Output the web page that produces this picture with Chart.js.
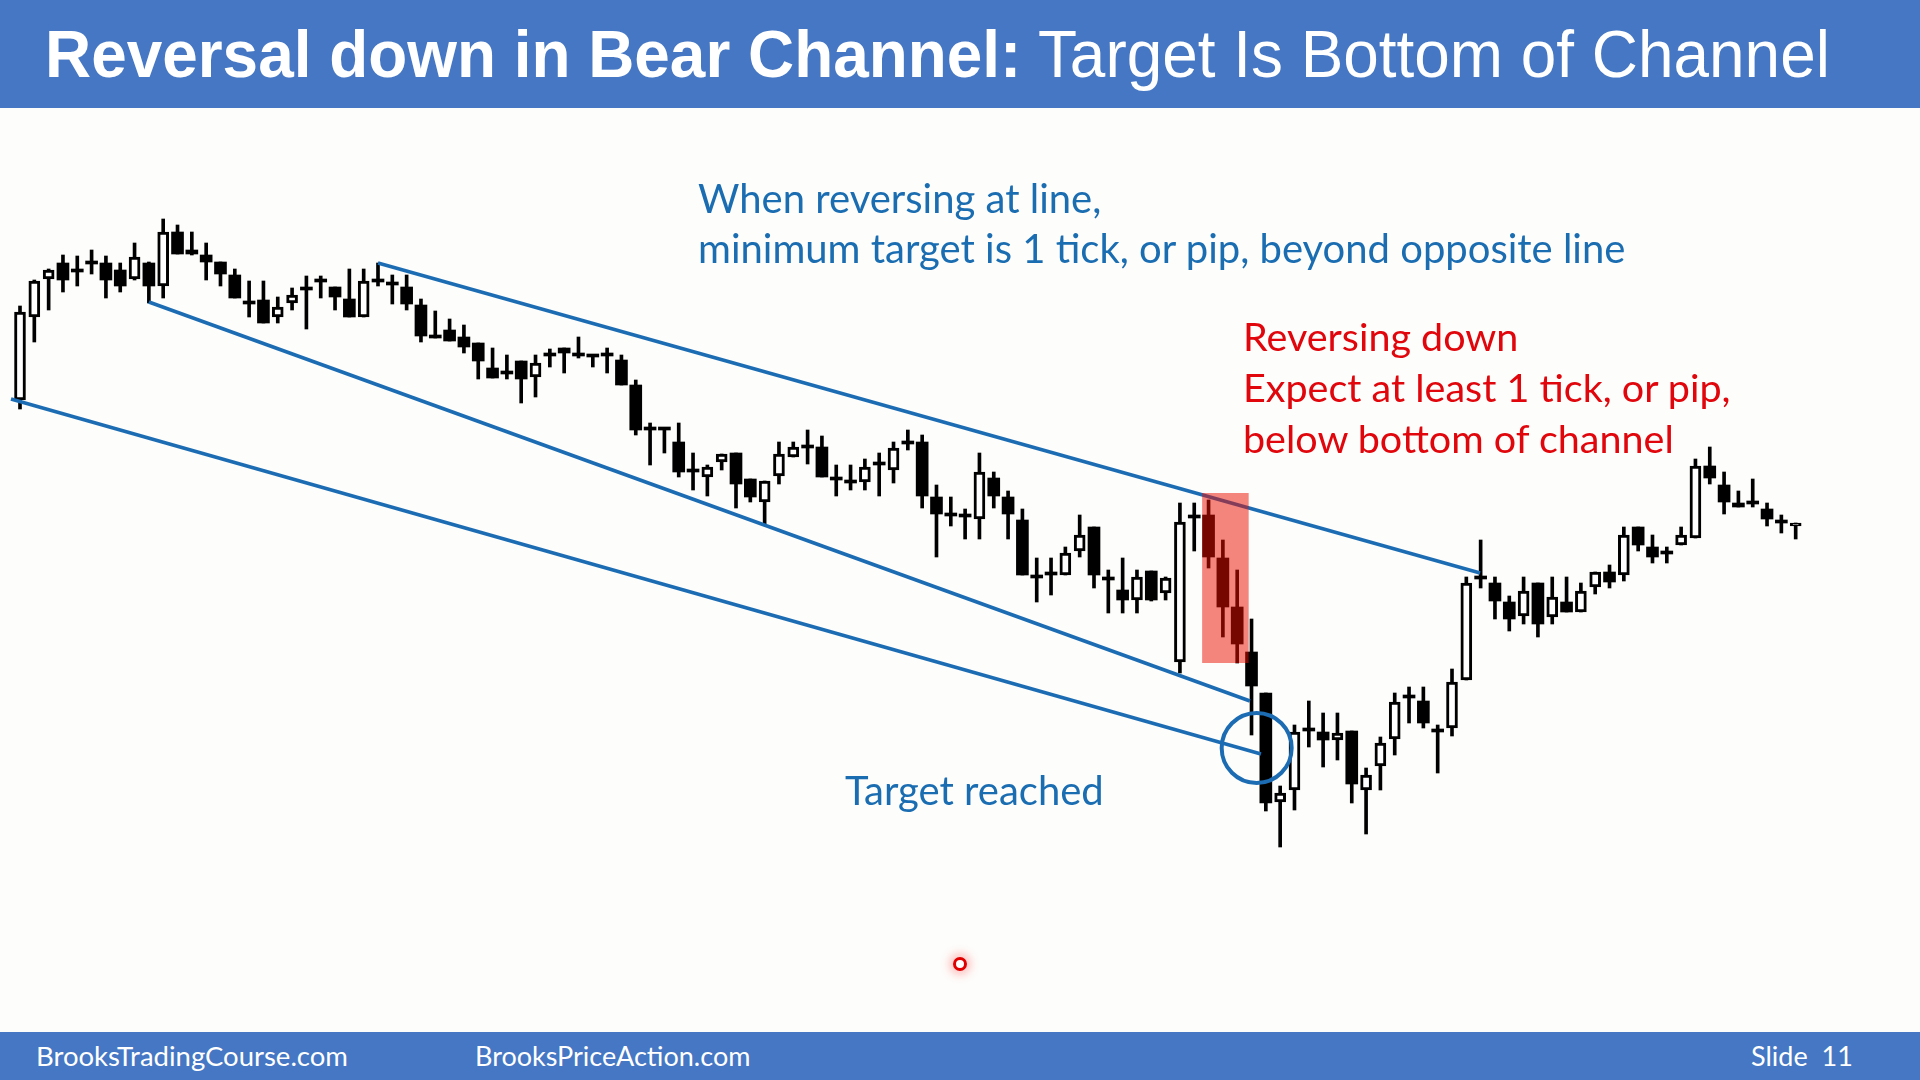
<!DOCTYPE html>
<html>
<head>
<meta charset="utf-8">
<title>Reversal down in Bear Channel</title>
<script src="https://cdn.jsdelivr.net/npm/chart.js@4.4.1/dist/chart.umd.min.js"></script>
<style>
  html, body { margin: 0; padding: 0; }
  body { width: 1920px; height: 1080px; position: relative; overflow: hidden; background: #fdfdfb; font-family: Lato, sans-serif; }
  #chart { position: absolute; left: 0; top: 0; }
  .band { position: absolute; left: 0; width: 1920px; background: #4577c4; color: #fff; }
  #title { top: 0; height: 108px; line-height: 108px; font-family: "Liberation Sans", Arial, sans-serif; font-size: 66px; white-space: nowrap; }
  #title span { position: absolute; left: 45px; top: 0; transform: scaleX(0.968); transform-origin: left center; }
  #footer { top: 1032px; height: 48px; line-height: 48px; font-size: 27px; }
  #footer span { position: absolute; top: 0; }
  .note { position: absolute; font-size: 40px; line-height: 50px; white-space: nowrap; }
  .blue { color: #1b6db2; }
  .red { color: #e0060c; }
  #dot { position: absolute; left: 953px; top: 957px; width: 8px; height: 8px; border: 3px solid #e00000; border-radius: 50%; background: #fff; box-shadow: 0 0 8px 4px rgba(255, 90, 90, 0.35); }
</style>
</head>
<body>
<canvas id="chart" width="1920" height="1080"></canvas>

<div id="title" class="band"><span><b>Reversal down in Bear Channel:</b> Target Is Bottom of Channel</span></div>

<div class="note blue" style="left:698px; top:173px;">When reversing at line,<br>minimum target is 1 tick, or pip, beyond opposite line</div>
<div class="note red" style="left:1243px; top:310px; line-height:51px; font-size:39.5px;">Reversing down<br>Expect at least 1 tick, or pip,<br>below bottom of channel</div>
<div class="note blue" style="left:845px; top:765px;">Target reached</div>
<div id="dot"></div>

<div id="footer" class="band">
  <span style="left:36px; font-size:27.5px;">BrooksTradingCourse.com</span>
  <span style="left:475px;">BrooksPriceAction.com</span>
  <span style="left:1751px;">Slide&nbsp;&nbsp;11</span>
</div>

<script>
// bar prices, one entry per bar, left to right
const open = [
  600, 683, 721, 737, 730, 738, 737, 730, 721, 737,
  714, 768, 750, 745, 738, 725, 699, 700, 683, 697,
  712, 720, 713, 701, 683, 719, 718, 713, 695, 663,
  670, 663, 657, 632, 628, 639, 623, 645, 652, 645,
  645, 646, 640, 615, 571, 571, 558, 529, 523, 538,
  547, 521, 498, 524, 543, 553, 553, 521, 520, 518,
  536, 530, 557, 558, 503, 485, 484, 481, 522, 503,
  480, 423, 428, 425, 449, 473, 421, 410, 400, 429,
  407, 338, 483, 485, 442, 393, 348, 307, 198, 210,
  270, 268, 260, 269, 210, 234, 261, 303, 299, 269,
  272, 320, 423, 417, 398, 384, 417, 383, 398, 388,
  413, 428, 425, 473, 453, 447, 455, 462, 534, 515,
  497, 497, 491, 478, 477
];
const close = [
  688, 719, 730, 720, 728, 736, 720, 714, 743, 714,
  768, 746, 746, 738, 726, 702, 696, 677, 693, 705,
  710, 718, 703, 683, 719, 718, 715, 696, 664, 662,
  659, 653, 639, 622, 626, 621, 637, 644, 647, 644,
  643, 644, 615, 570, 570, 570, 528, 528, 533, 546,
  516, 503, 519, 546, 553, 552, 523, 520, 517, 533,
  535, 552, 556, 504, 486, 484, 483, 528, 504, 486,
  425, 422, 425, 447, 465, 425, 420, 400, 423, 400,
  422, 478, 482, 443, 393, 356, 314, 197, 207, 268,
  269, 260, 267, 216, 225, 257, 298, 302, 277, 268,
  318, 417, 421, 399, 381, 409, 376, 403, 388, 409,
  428, 418, 465, 455, 443, 446, 465, 534, 522, 498,
  493, 496, 481, 477, 477
];
const high = [
  694, 720, 731, 745, 744, 750, 744, 737, 757, 738,
  781, 775, 768, 757, 738, 731, 719, 719, 703, 712,
  724, 724, 713, 731, 731, 737, 725, 725, 701, 689,
  681, 675, 657, 652, 645, 639, 645, 651, 652, 663,
  645, 652, 645, 620, 577, 571, 577, 547, 535, 546,
  547, 521, 519, 558, 558, 570, 564, 535, 535, 541,
  547, 558, 570, 565, 515, 503, 491, 547, 528, 509,
  491, 442, 442, 453, 485, 473, 430, 442, 430, 429,
  423, 497, 497, 500, 460, 430, 381, 307, 214, 275,
  299, 287, 287, 269, 232, 263, 307, 313, 313, 275,
  331, 423, 460, 423, 404, 423, 417, 423, 423, 417,
  428, 435, 473, 473, 465, 453, 473, 541, 553, 528,
  509, 521, 497, 485, 477
];
const low = [
  591, 658, 690, 708, 714, 726, 702, 708, 720, 697,
  702, 746, 745, 720, 714, 702, 683, 677, 677, 690,
  671, 702, 690, 683, 683, 714, 696, 690, 658, 662,
  659, 647, 621, 622, 621, 597, 603, 633, 627, 642,
  633, 627, 615, 565, 535, 547, 523, 510, 504, 530,
  492, 498, 476, 516, 543, 536, 523, 504, 510, 510,
  504, 517, 550, 492, 443, 474, 461, 461, 492, 461,
  425, 398, 405, 425, 443, 412, 387, 387, 387, 399,
  400, 327, 449, 432, 363, 337, 265, 189, 153, 190,
  253, 233, 240, 197, 166, 210, 245, 277, 272, 227,
  264, 320, 412, 381, 369, 376, 363, 376, 388, 388,
  406, 412, 419, 449, 437, 437, 455, 462, 516, 486,
  493, 493, 474, 467, 461
];

// channel lines: [bar, price] at each end
const upperLine = [[25, 737], [101.96, 427]];
const middleLine = [[9, 698], [85.89, 299]];
const lowerLine = [[-0.63, 601], [86.66, 246]];

// shaded reversal bars and the circled target
const highlight = { from: 82.55, to: 85.8, top: 507, bottom: 337 };
const target = { bar: 86.36, price: 252 };

const channelBlue = '#1c6cb3';
const bars = open.map((o, i) => i);

const bull = bars.filter(i => close[i] >= open[i]).map(i => ({ x: i, y: [open[i], close[i]] }));
const bear = bars.filter(i => close[i] < open[i]).map(i => ({ x: i, y: [close[i], open[i]] }));
const wicks = bars.map(i => ({ x: i, y: [low[i], high[i]] }));
const toPoints = line => line.map(p => ({ x: p[0], y: p[1] }));

const lineSet = line => ({
  type: 'line',
  data: toPoints(line),
  borderColor: channelBlue,
  borderWidth: 3.6,
  pointRadius: 0,
  order: -1
});

const overlays = {
  id: 'overlays',
  afterDatasetsDraw(chart) {
    const { ctx, scales: { x, y } } = chart;
    ctx.save();
    const x1 = x.getPixelForValue(highlight.from);
    const x2 = x.getPixelForValue(highlight.to);
    const y1 = y.getPixelForValue(highlight.top);
    const y2 = y.getPixelForValue(highlight.bottom);
    ctx.fillStyle = 'rgba(236, 14, 0, 0.5)';
    ctx.fillRect(x1, y1, x2 - x1, y2 - y1);

    ctx.strokeStyle = channelBlue;
    ctx.lineWidth = 4;
    ctx.beginPath();
    ctx.arc(x.getPixelForValue(target.bar), y.getPixelForValue(target.price), 35, 0, Math.PI * 2);
    ctx.stroke();
    ctx.restore();
  }
};

// bar 0 sits at x=20px, bars 14.32px apart
const xMin = -20 / 14.32;
const xMax = xMin + 1920 / 14.32;

new Chart(document.getElementById('chart'), {
  type: 'bar',
  data: {
    datasets: [
      lineSet(upperLine),
      lineSet(middleLine),
      lineSet(lowerLine),
      {
        data: bull,
        backgroundColor: '#ffffff',
        borderColor: '#000000',
        borderWidth: 3,
        borderSkipped: false,
        barThickness: 11,
        minBarLength: 3,
        grouped: false,
        order: 0
      },
      {
        data: bear,
        backgroundColor: '#000000',
        borderWidth: 0,
        barThickness: 12,
        minBarLength: 3,
        grouped: false,
        order: 0
      },
      {
        data: wicks,
        backgroundColor: '#000000',
        borderWidth: 0,
        barThickness: 3,
        grouped: false,
        order: 1
      }
    ]
  },
  options: {
    responsive: false,
    animation: false,
    devicePixelRatio: 1,
    layout: { padding: 0 },
    scales: {
      x: { type: 'linear', min: xMin, max: xMax, offset: false, display: false },
      y: { min: -80, max: 1000, display: false }
    },
    plugins: {
      legend: { display: false },
      tooltip: { enabled: false }
    }
  },
  plugins: [overlays]
});
</script>
</body>
</html>
